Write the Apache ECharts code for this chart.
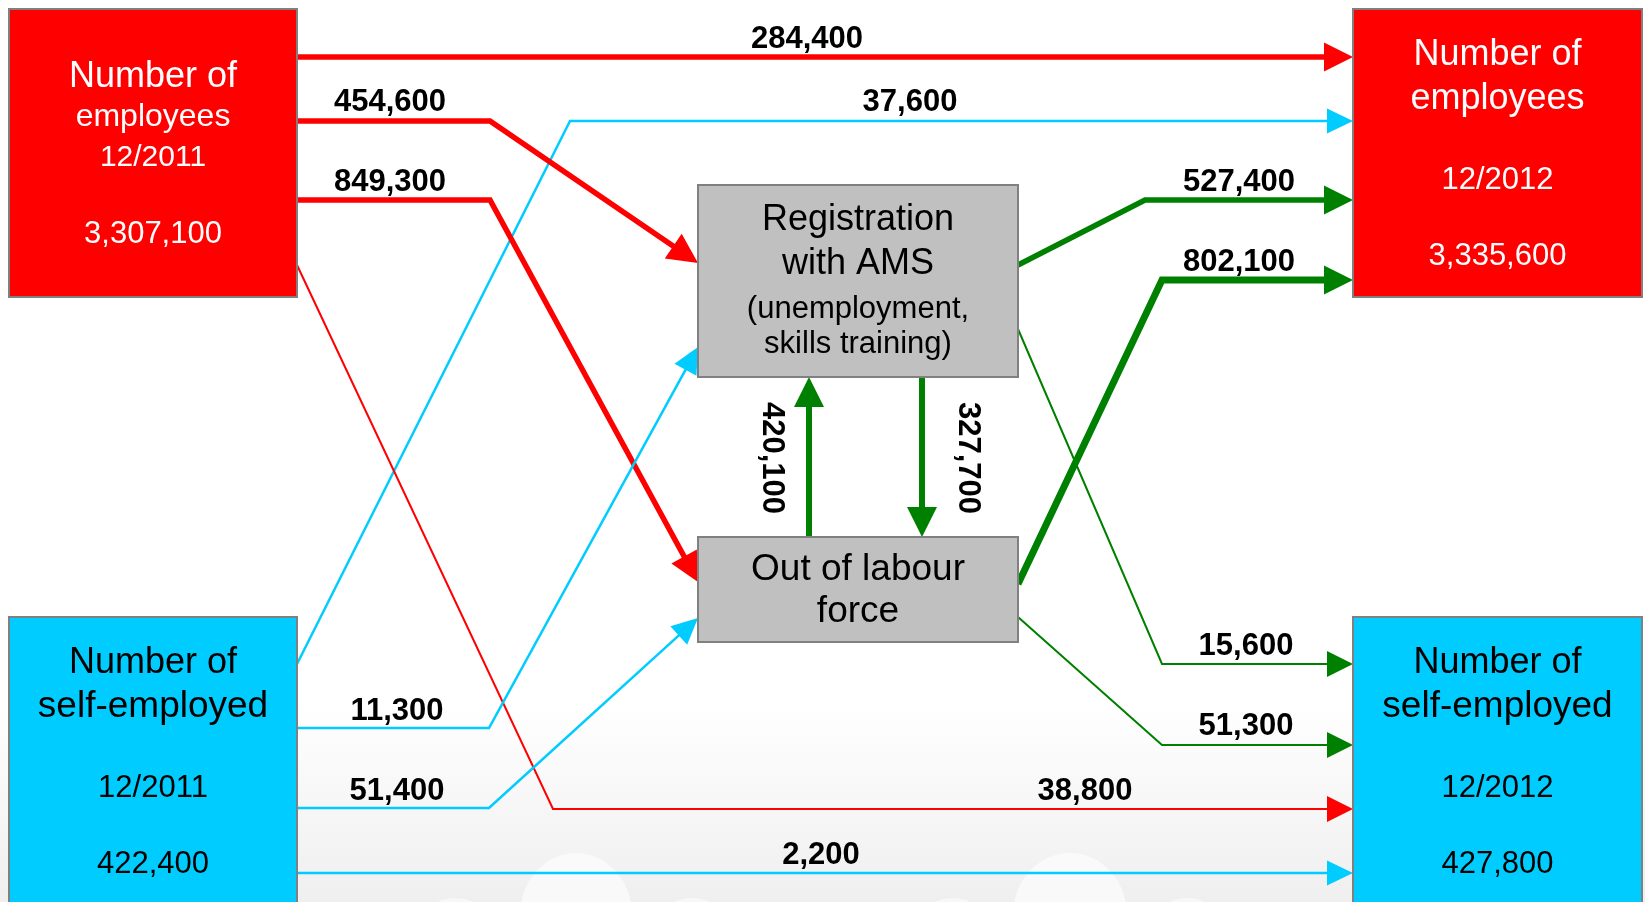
<!DOCTYPE html>
<html>
<head>
<meta charset="utf-8">
<title>Labour market flows 2011-2012</title>
<script src="https://cdn.jsdelivr.net/npm/echarts@6/dist/echarts.min.js"></script>
<style>
  html, body { margin: 0; padding: 0; background: #fff; }
  #chart { width: 1645px; height: 902px; }
</style>
</head>
<body>
<div id="chart"></div>
<script>
// ---- data ----
var nodeNames = ['emp2011', 'self2011', 'ams', 'olf', 'emp2012', 'self2012'];
var nodeTitles = [
  ['Number of', 'employees'],
  ['Number of', 'self-employed'],
  ['Registration', 'with AMS', '(unemployment,', 'skills training)'],
  ['Out of labour', 'force'],
  ['Number of', 'employees'],
  ['Number of', 'self-employed']
];
var nodeDates = ['12/2011', '12/2011', null, null, '12/2012', '12/2012'];
var nodeTotals = [3307100, 422400, null, null, 3335600, 427800];

var flowFrom = ['emp2011', 'self2011', 'emp2011', 'emp2011', 'emp2011', 'self2011', 'self2011',
  'self2011', 'olf', 'ams', 'ams', 'olf', 'ams', 'olf'];
var flowTo = ['emp2012', 'emp2012', 'ams', 'olf', 'self2012', 'ams', 'olf',
  'self2012', 'ams', 'olf', 'emp2012', 'emp2012', 'self2012', 'self2012'];
var flowValues = [284400, 37600, 454600, 849300, 38800, 11300, 51400,
  2200, 420100, 327700, 527400, 802100, 15600, 51300];

// ---- layout (diagram units = pixels of the 1645x902 canvas) ----
var nodeRects = [
  [9, 9, 297, 297], [9, 617, 297, 912], [698, 185, 1018, 377],
  [698, 537, 1018, 642], [1353, 9, 1642, 297], [1353, 617, 1642, 912]
];
var nodeFill = ['#ff0000', '#00ccff', '#c0c0c0', '#c0c0c0', '#ff0000', '#00ccff'];
var nodeInk = ['#ffffff', '#000000', '#000000', '#000000', '#ffffff', '#000000'];
// baseline y and font size of each text row in a box
var nodeRows = [
  [[90, 36], [128, 32], [168, 30], [245, 31]],
  [[676, 36], [720, 37], [799, 31], [875, 31]],
  [[233, 36], [277, 36], [320, 31], [355, 31]],
  [[583, 37], [625, 37]],
  [[68, 36], [112, 36], [191, 31], [267, 31]],
  [[676, 36], [720, 37], [799, 31], [875, 31]]
];

var flowRoutes = [
  [[297, 57], [1353, 57]],
  [[297, 664], [570, 121], [1353, 121]],
  [[297, 121], [490, 121], [698, 263]],
  [[297, 200], [490, 200], [698, 582]],
  [[297, 265], [553, 809], [1353, 809]],
  [[297, 728], [489, 728], [698, 347]],
  [[297, 808], [489, 808], [698, 618]],
  [[297, 873], [1353, 873]],
  [[809, 537], [809, 377]],
  [[922, 377], [922, 537]],
  [[1018, 265], [1145, 200], [1353, 200]],
  [[1018, 584], [1162, 280], [1353, 280]],
  [[1018, 329], [1162, 664], [1353, 664]],
  [[1018, 617], [1162, 745], [1353, 745]]
];
var flowLabelAt = [
  [807, 50], [910, 113], [390, 113], [390, 193], [1085, 802], [397, 722], [397, 802],
  [821, 866], [772, 458], [968, 458], [1239, 193], [1239, 273], [1246, 657], [1246, 737]
];
var flowLabelTurn = [0, 0, 0, 0, 0, 0, 0, 0, -90, -90, 0, 0, 0, 0];
var flowWidth = [5.5, 2.5, 5.5, 5.5, 2, 2.5, 2.5, 2.5, 6, 6, 5.5, 7, 2, 2];
var flowHead = [[29, 14.5], [26, 12.5], [30, 15], [29, 14.5], [26, 13], [26, 12.5], [26, 12.5],
  [26, 12.5], [30, 15], [30, 15], [29, 14.5], [29, 14.5], [26, 13], [26, 13]];

var colorOf = { emp2011: '#ff0000', self2011: '#00ccff', ams: '#008000', olf: '#008000' };
var FONT = '"Liberation Sans", Arial, Helvetica, sans-serif';

function fmt(v) { return v.toLocaleString('en-US'); }

// text rows for every node
function nodeLines(i) {
  var lines = nodeTitles[i].slice();
  if (nodeDates[i]) lines.push(nodeDates[i]);
  if (nodeTotals[i] != null) lines.push(fmt(nodeTotals[i]));
  return lines;
}

// faint white blobs in the grey band at the bottom
function blob(cx, cy, rx, ry, op) {
  return { type: 'ellipse', z: -9, silent: true, shape: { cx: cx, cy: cy, rx: rx, ry: ry },
    style: { fill: '#ffffff', opacity: op } };
}

var myChart = echarts.init(document.getElementById('chart'));

var option = {
  animation: false,
  grid: { left: 0, right: 0, top: 0, bottom: 0 },
  xAxis: { type: 'value', min: 0, max: 1645, show: false },
  yAxis: { type: 'value', min: 0, max: 902, inverse: true, show: false },
  graphic: [
    {
      type: 'rect', z: -10, silent: true,
      shape: { x: 0, y: 700, width: 1645, height: 202 },
      style: {
        fill: new echarts.graphic.LinearGradient(0, 0, 0, 1, [
          { offset: 0, color: '#ffffff' }, { offset: 1, color: '#efefef' }
        ])
      }
    },
    blob(576, 915, 56, 62, 0.6),
    blob(1070, 915, 57, 62, 0.6),
    blob(455, 912, 25, 14, 0.5),
    blob(692, 912, 25, 14, 0.5),
    blob(953, 912, 25, 14, 0.5),
    blob(1187, 912, 25, 14, 0.5)
  ],
  series: [
    {
      // boxes
      type: 'custom',
      coordinateSystem: 'cartesian2d',
      z: 3,
      data: nodeNames.map(function (n, i) { return [i]; }),
      renderItem: function (params, api) {
        var i = params.dataIndex;
        var r = nodeRects[i];
        var p0 = api.coord([r[0], r[1]]);
        var p1 = api.coord([r[2], r[3]]);
        var cx = (p0[0] + p1[0]) / 2;
        var children = [{
          type: 'rect',
          shape: { x: p0[0], y: p0[1], width: p1[0] - p0[0], height: p1[1] - p0[1] },
          style: { fill: nodeFill[i], stroke: '#808080', lineWidth: 2 }
        }];
        var lines = nodeLines(i);
        lines.forEach(function (t, k) {
          var row = nodeRows[i][k];
          var y = api.coord([0, row[0]])[1];
          children.push({
            type: 'text',
            style: {
              text: t, x: cx, y: y - row[1] * 0.35,
              fill: nodeInk[i], font: row[1] + 'px ' + FONT,
              textAlign: 'center', textVerticalAlign: 'middle'
            }
          });
        });
        return { type: 'group', children: children };
      }
    },
    {
      // flows
      type: 'custom',
      coordinateSystem: 'cartesian2d',
      z: 2,
      data: flowValues.map(function (v, i) { return [i, v]; }),
      renderItem: function (params, api) {
        var i = params.dataIndex;
        var pts = flowRoutes[i].map(function (p) { return api.coord(p); });
        var color = colorOf[flowFrom[i]];
        var n = pts.length;
        var tip = pts[n - 1], prev = pts[n - 2];
        var dx = tip[0] - prev[0], dy = tip[1] - prev[1];
        var len = Math.sqrt(dx * dx + dy * dy);
        var ux = dx / len, uy = dy / len;
        var hl = flowHead[i][0], hw = flowHead[i][1];
        var base = [tip[0] - ux * hl, tip[1] - uy * hl];
        var linePts = pts.slice(0, n - 1).concat([[tip[0] - ux * (hl - 2), tip[1] - uy * (hl - 2)]]);
        var lab = api.coord(flowLabelAt[i]);
        var turn = flowLabelTurn[i];
        return {
          type: 'group',
          children: [
            {
              type: 'polyline',
              shape: { points: linePts },
              style: { stroke: color, lineWidth: flowWidth[i], fill: null, lineJoin: 'miter' }
            },
            {
              type: 'polygon',
              shape: { points: [tip, [base[0] - uy * hw, base[1] + ux * hw], [base[0] + uy * hw, base[1] - ux * hw]] },
              style: { fill: color }
            },
            {
              type: 'text',
              x: lab[0],
              y: turn ? lab[1] : lab[1] - 31 * 0.35,
              rotation: turn * Math.PI / 180,
              style: {
                text: fmt(api.value(1)), x: 0, y: 0,
                fill: '#000', font: 'bold 31px ' + FONT,
                textAlign: 'center', textVerticalAlign: 'middle'
              }
            }
          ]
        };
      }
    }
  ]
};

myChart.setOption(option);
</script>
</body>
</html>
